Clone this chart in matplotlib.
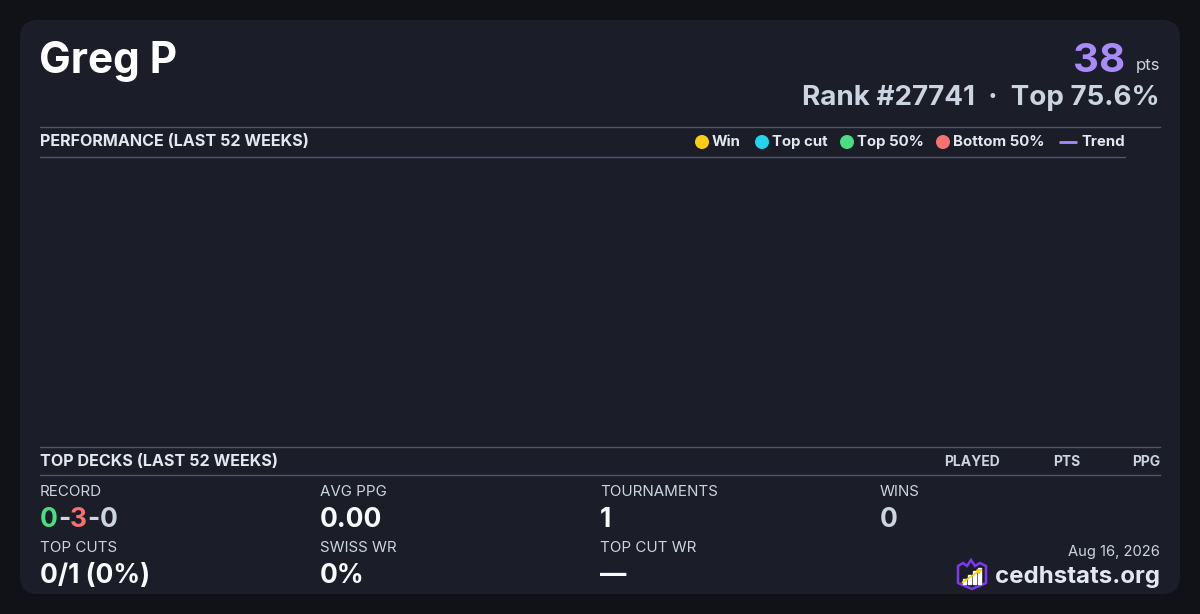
import matplotlib
matplotlib.use("Agg")
import matplotlib.pyplot as plt
from matplotlib.patches import FancyBboxPatch, Circle, Polygon, Rectangle

plt.rcParams['font.family'] = ['Inter', 'DejaVu Sans']

# card data
player = "Greg P"
points = 38
rank = 27741
top_pct = 75.6
legend_names = ["Win", "Top cut", "Top 50%", "Bottom 50%"]
legend_colors = ["#facc15", "#22d3ee", "#4ade80", "#f87171"]
trend_color = "#a78bfa"
deck_cols = ["PLAYED", "PTS", "PPG"]
record = [0, 3, 0]
stat_labels = ["RECORD", "AVG PPG", "TOURNAMENTS", "WINS",
               "TOP CUTS", "SWISS WR", "TOP CUT WR"]
stat_values = [None, "0.00", "1", "0", "0/1 (0%)", "0%", "—"]
date_str = "Aug 16, 2026"
site = "cedhstats.org"

BG = "#111217"
CARD = "#1b1d28"
RULE = "#4b5a70"
TXT = "#e2e8f0"
SUB = "#cbd5e1"
WHITE = "#f8fafc"

fig = plt.figure(figsize=(12, 6.14), dpi=100, facecolor=BG)
ax = fig.add_axes([0, 0, 1, 1])
ax.set_xlim(0, 1200)
ax.set_ylim(614, 0)
ax.axis("off")

ax.add_patch(FancyBboxPatch((20, 20), 1160, 574, boxstyle="round,pad=0,rounding_size=18",
                            fc=CARD, ec="none"))

# header
ax.text(39, 73, player, color="#ffffff", fontsize=30.5, fontweight="bold", va="baseline")
ax.text(1160, 70, "pts", color=SUB, fontsize=12, ha="right", va="baseline")
ax.text(1125, 72, str(points), color=trend_color, fontsize=29, fontweight="bold",
        ha="right", va="baseline")
ax.text(1160, 105, f"Rank #{rank}  ·  Top {top_pct}%", color=SUB, fontsize=20,
        fontweight="bold", ha="right", va="baseline")

# performance section
ax.plot([40, 1160], [126.5, 126.5], color=RULE, lw=1)
ax.plot([40, 1125], [156.5, 156.5], color=RULE, lw=1)
ax.text(40, 142, "PERFORMANCE (LAST 52 WEEKS)", color=TXT, fontsize=11.6,
        fontweight="bold", va="center")
leg_x = [702, 762, 847, 943]
for x, name, c in zip(leg_x, legend_names, legend_colors):
    ax.add_patch(Circle((x, 142), 6.3, color=c))
    ax.text(x + 10, 142, name, color=TXT, fontsize=10.8, fontweight="bold", va="center")
ax.plot([1059, 1077], [142, 142], color=trend_color, lw=2, solid_capstyle="butt")
ax.text(1081, 142, "Trend", color=TXT, fontsize=10.8, fontweight="bold", va="center")

# top decks section
ax.plot([40, 1160], [446.5, 446.5], color=RULE, lw=1)
ax.plot([40, 1160], [474.5, 474.5], color=RULE, lw=1)
ax.text(40, 462, "TOP DECKS (LAST 52 WEEKS)", color=TXT, fontsize=11.6,
        fontweight="bold", va="center")
for x, name in zip([1000, 1080, 1160], deck_cols):
    ax.text(x, 462, name, color=SUB, fontsize=10, fontweight="bold", ha="right", va="center")

# stats grid
col_x = [40, 320, 600, 880]
pos = [(col_x[0], 0), (col_x[1], 0), (col_x[2], 0), (col_x[3], 0),
       (col_x[0], 1), (col_x[1], 1), (col_x[2], 1)]
for (x, row), lab, val in zip(pos, stat_labels, stat_values):
    ly = 492 + row * 56
    vy = 527 + row * 56
    ax.text(x, ly, lab, color=SUB, fontsize=10.9, va="center")
    if val is None:
        continue
    color = SUB if lab == "WINS" else WHITE
    ax.text(x, vy, val, color=color, fontsize=19, fontweight="bold", va="baseline")

# multi-coloured record
fig.canvas.draw()
r = fig.canvas.get_renderer()
parts = [(str(record[0]), "#4ade80"), ("-", SUB), (str(record[1]), "#f87171"),
         ("-", SUB), (str(record[2]), SUB)]
x = 40
for s, c in parts:
    t = ax.text(x, 527, s, color=c, fontsize=19, fontweight="bold", va="baseline")
    bb = t.get_window_extent(renderer=r)
    x += bb.width

# footer
ax.text(1160, 556, date_str, color=SUB, fontsize=10.6, ha="right", va="baseline")
ax.text(1160, 583, site, color=TXT, fontsize=17.3, fontweight="bold", ha="right", va="baseline")

# logo
shield = [(958, 566), (963, 563), (967, 566), (971, 560), (975, 566), (980, 563), (986, 566),
          (986, 583), (972, 589), (958, 583)]
ax.add_patch(Polygon(shield, closed=True, fc="#1b1d28", ec="#7c3aed", lw=1.8))
for bx, bh in zip([963, 968, 973, 978], [5, 9, 13, 16]):
    ax.add_patch(Rectangle((bx, 584 - bh), 3, bh, color="#ffffff"))
ax.annotate("", xy=(985, 567), xytext=(960, 584),
            arrowprops=dict(arrowstyle="-|>", color="#facc15", lw=1.2, mutation_scale=7))

fig.savefig("out.png", dpi=100, facecolor=BG)
